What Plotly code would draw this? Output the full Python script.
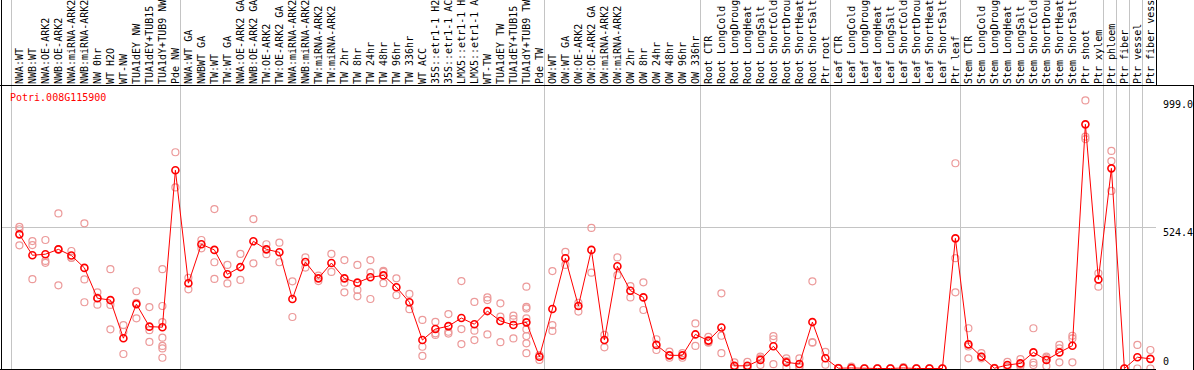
import plotly.graph_objects as go

gene_id = "Potri.008G115900"

categories = [
    "NWA:WT", "NWB:WT", "NWA:OE-ARK2", "NWB:OE-ARK2", "NWA:miRNA-ARK2", "NWB:miRNA-ARK2",
    "NW 0hr", "WT H2O", "WT-NW", "TUA1dEY NW", "TUA1dEY+TUB15", "TUA1dY+TUB9 NW", "Pde NW",
    "NWA:WT GA", "NWBWT GA", "TW:WT", "TW:WT GA", "NWA:OE-ARK2 GA", "NWB:OE-ARK2 GA",
    "TW:OE-ARK2", "TW:OE-ARK2 GA", "NWA:miRNA-ARK2", "NWB:miRNA-ARK2", "TW:miRNA-ARK2",
    "TW:miRNA-ARK2", "TW 2hr", "TW 8hr", "TW 24hr", "TW 48hr", "TW 96hr", "TW 336hr",
    "WT ACC", "35S::etr1-1 H2O", "35S::etr1-1 ACC", "LMX5::etr1-1 H2O", "LMX5::etr1-1 ACC",
    "WT-TW", "TUA1dEY TW", "TUA1dEY+TUB15", "TUA1dY+TUB9 TW", "Pde TW",
    "OW:WT", "OW:WT GA", "OW:OE-ARK2", "OW:OE-ARK2 GA", "OW:miRNA-ARK2", "OW:miRNA-ARK2",
    "OW 2hr", "OW 8hr", "OW 24hr", "OW 48hr", "OW 96hr", "OW 336hr",
    "Root CTR", "Root LongCold", "Root LongDrought", "Root LongHeat", "Root LongSalt",
    "Root ShortCold", "Root ShortDrought", "Root ShortHeat", "Root ShortSalt", "Ptr root",
    "Leaf CTR", "Leaf LongCold", "Leaf LongDrought", "Leaf LongHeat", "Leaf LongSalt",
    "Leaf ShortCold", "Leaf ShortDrought", "Leaf ShortHeat", "Leaf ShortSalt", "Ptr leaf",
    "Stem CTR", "Stem LongCold", "Stem LongDrought", "Stem LongHeat", "Stem LongSalt",
    "Stem ShortCold", "Stem ShortDrought", "Stem ShortHeat", "Stem ShortSalt", "Ptr shoot",
    "Ptr xylem", "Ptr phloem", "Ptr fiber", "Ptr vessel", "Ptr fiber vessel",
]

means = [
    500, 422, 426, 444, 421, 375, 262, 255, 113, 240, 156, 154, 739,
    318, 463, 442, 351, 378, 474, 444, 433, 259, 397, 336, 393, 336, 320, 340, 347, 303, 247,
    106, 147, 158, 188, 165, 214, 177, 162, 172, 44,
    222, 411, 233, 442, 106, 381, 290, 265, 88, 49, 49, 127,
    104, 153, 10, 10, 32, 83, 23, 17, 173, 38,
    1, 2, 0, 0, 0, 2, 0, 0, 0, 485,
    90, 44, 1, 13, 19, 60, 32, 60, 85, 910, 332,
    746, 0, 42, 36,
]

replicates = [
    [528, 519, 459], [475, 460, 333], [479, 401, 394], [578, 444, 310], [438, 413, 412],
    [541, 332, 247], [284, 264, 238], [370, 237, 146], [162, 137, 54], [288, 245, 187],
    [229, 143, 99], [370, 233, 173, 115, 84, 75, 40], [806, 675],
    [338, 295], [479, 448], [594, 396, 334], [386, 317], [427, 330], [557, 392],
    [463, 426], [469, 396], [325, 192], [414, 376], [346, 326], [427, 360],
    [404, 320, 284], [386, 293, 269], [404, 358, 259], [364, 360, 318], [336, 273], [278, 221],
    [181, 81, 47], [174, 131, 125], [203, 137, 130], [326, 147, 91], [248, 141, 106],
    [265, 255, 127], [243, 193, 98], [197, 184, 112], [305, 230, 224, 187, 146, 121, 94, 57],
    [50, 32],
    [363, 162, 140], [435, 386], [245, 212], [524, 357], [125, 79], [414, 348],
    [307, 265], [321, 218], [109, 69], [63, 40], [57, 40], [168, 84],
    [118, 98, 96], [280, 122, 57], [23, 5, 2], [25, 4, 1], [44, 38, 13],
    [121, 109, 16], [38, 28, 4], [38, 8, 4], [325, 98, 96], [62, 14],
    [2, 0, 0], [7, 0, 0], [1, 0, 0], [1, 0, 0], [1, 0, 0],
    [5, 1, 0], [1, 0, 0], [1, 0, 0], [0, 0, 0], [765, 411, 284],
    [150, 82, 38], [57, 44, 38], [2, 0, 0], [25, 7, 7], [35, 13, 7],
    [150, 22, 13], [44, 40, 9], [88, 75, 23], [122, 112, 23], [999, 864, 855],
    [355, 305], [811, 773, 662], [0, 0], [88, 0], [69, 0],
]

group_starts = [0, 13, 41, 53, 63, 73, 84, 85, 86, 87]
y_ticks = [999.0, 524.4, 0]
y_tick_text = ["999.0", "524.4", "0"]

# ---- layout geometry ----
W, H = 1194, 370
ML, MR, MT, MB = 1, 38, 85, 1
PW, PH = W - ML - MR, H - MT - MB
STEP = 13.0
xmin = -(19.4 - ML) / STEP
xmax = xmin + PW / STEP
scale = 3.727
ymin = -0.5 * scale
ymax = ymin + PH * scale

FONT = "DejaVu Sans Mono"
GRID = "#c4c4c4"


def px_x(p):
    return (p - ML) / PW


def px_y(p):
    return (H - MB - p) / PH


rep_x, rep_y = [], []
for i, vals in enumerate(replicates):
    for v in vals:
        rep_x.append(i)
        rep_y.append(v)

fig = go.Figure()
fig.add_trace(go.Scatter(
    x=rep_x, y=rep_y, mode="markers", cliponaxis=False, hoverinfo="skip",
    marker=dict(symbol="circle-open", size=7, color="#ec9a9a", line=dict(width=1.2)),
))
fig.add_trace(go.Scatter(
    x=list(range(len(means))), y=means, mode="lines+markers", cliponaxis=False,
    line=dict(color="#ff0000", width=1),
    marker=dict(symbol="circle-open", size=7, color="#ff0000", line=dict(width=1.6)),
))

shapes = []
top_paper = px_y(0)
for g in group_starts:
    shapes.append(dict(type="line", xref="x", yref="paper", x0=g - 0.608, x1=g - 0.608,
                       y0=0, y1=top_paper, line=dict(color=GRID, width=1), layer="below"))
# frame lines
shapes.append(dict(type="line", xref="paper", yref="paper", x0=px_x(0), x1=px_x(W),
                   y0=px_y(85.5), y1=px_y(85.5), line=dict(color="black", width=1)))
shapes.append(dict(type="line", xref="paper", yref="paper", x0=px_x(0), x1=px_x(1156),
                   y0=px_y(369.5), y1=px_y(369.5), line=dict(color="black", width=1)))
shapes.append(dict(type="line", xref="paper", yref="paper", x0=px_x(1.5), x1=px_x(1.5),
                   y0=px_y(370), y1=px_y(0), line=dict(color="black", width=1)))
shapes.append(dict(type="line", xref="paper", yref="paper", x0=px_x(1193.5), x1=px_x(1193.5),
                   y0=px_y(370), y1=px_y(85), line=dict(color="black", width=1)))
shapes.append(dict(type="line", xref="paper", yref="paper", x0=px_x(1156.5), x1=px_x(1156.5),
                   y0=px_y(85), y1=px_y(0), line=dict(color="black", width=1)))

annotations = [dict(text=gene_id, xref="paper", yref="paper", x=px_x(8), y=px_y(97),
                    xanchor="left", yanchor="middle", showarrow=False,
                    font=dict(family=FONT, size=10, color="#ff0000"))]
for v, t in zip(y_ticks, y_tick_text):
    annotations.append(dict(text=t, xref="paper", yref="y", x=px_x(1161), y=v,
                            xanchor="left", yanchor="top" if v > 0 else "bottom",
                            yshift=3 if v > 0 else 0, showarrow=False,
                            font=dict(family=FONT, size=10, color="black")))

fig.update_layout(
    width=W, height=H, margin=dict(l=ML, r=MR, t=MT, b=MB, pad=0),
    paper_bgcolor="white", plot_bgcolor="white", showlegend=False,
    shapes=shapes, annotations=annotations,
    xaxis=dict(range=[xmin, xmax], side="top", tickmode="array",
               tickvals=list(range(len(categories))), ticktext=categories,
               tickangle=-90, ticks="", showgrid=False, zeroline=False, showline=False,
               tickfont=dict(family=FONT, size=10, color="black"), automargin=False),
    yaxis=dict(range=[ymin, ymax], tickmode="array", tickvals=[y_ticks[1]],
               showticklabels=False, ticks="", showgrid=True, gridcolor=GRID, gridwidth=1,
               zeroline=False, showline=False, automargin=False),
)

fig.write_html("out.html", config={"displayModeBar": False},
               post_script="document.body.style.margin='0';document.body.style.overflow='hidden';")
